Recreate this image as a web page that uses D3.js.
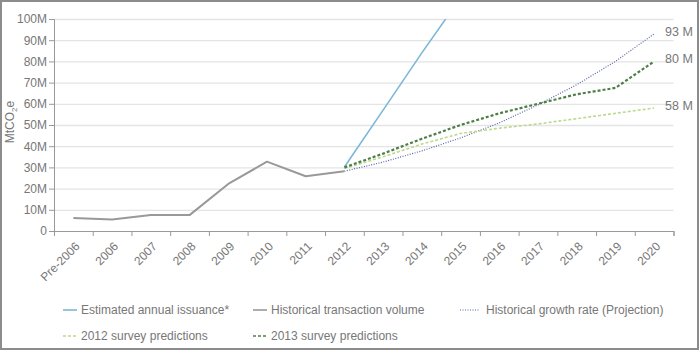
<!DOCTYPE html>
<html lang="en">
<head>
    <meta charset="UTF-8">
    <title>Carbon market volume</title>
    <script src="https://d3js.org/d3.v7.min.js"></script>
    <style>
        body {
            margin: 0;
            padding: 0;
            background: #fff;
            font-family: "Liberation Sans", Arial, sans-serif;
        }
        svg text {
            fill: #777;
        }
    </style>
</head>
<body>
    <svg id="chart" width="700" height="351"></svg>

    <script>
        // values in MtCO2e (millions)
        const categories = ["Pre-2006", "2006", "2007", "2008", "2009", "2010", "2011", "2012",
            "2013", "2014", "2015", "2016", "2017", "2018", "2019", "2020"];
        const yTicks = [0, 10, 20, 30, 40, 50, 60, 70, 80, 90, 100];

        const historicalYears = ["Pre-2006", "2006", "2007", "2008", "2009", "2010", "2011", "2012"];
        const historicalValues = [6.1, 5.4, 7.5, 7.5, 22.2, 32.7, 25.8, 28.2];

        const issuanceYears = ["2012", "2013", "2014", "2015"];
        const issuanceValues = [30.2, 57, 84, 110];

        const projYears = ["2012", "2013", "2014", "2015", "2016", "2017", "2018", "2019", "2020"];
        const growthValues = [28.2, 32.5, 37.8, 43.9, 51, 59.5, 69, 80, 93];
        const survey2012Values = [29.5, 35, 41, 46, 48.5, 50.5, 53, 55.5, 58];
        const survey2013Values = [30, 36.5, 43.5, 50, 55.5, 60, 64.5, 67.5, 80];

        const endLabels = [93, 80, 58];

        const svg = d3.select("#chart");
        const plotLeft = 54, plotRight = 673.5, plotTop = 19, plotBottom = 231;

        // frame
        svg.append("rect")
            .attr("x", 1).attr("y", 1)
            .attr("width", 697).attr("height", 348)
            .attr("fill", "none")
            .attr("stroke", "#8c8c8c")
            .attr("stroke-width", 2);

        const x = d3.scaleBand().domain(categories).range([plotLeft, plotRight]);
        const xc = c => x(c) + x.bandwidth() / 2;
        const xIdx = d3.scaleLinear().domain([0, categories.length]).range([plotLeft, plotRight]);
        const y = d3.scaleLinear().domain([0, 100]).range([plotBottom, plotTop]);

        // gridlines
        svg.append("g")
            .attr("transform", `translate(${plotLeft},0)`)
            .call(d3.axisLeft(y).tickValues(yTicks.slice(1)).tickSize(-(plotRight - plotLeft)).tickFormat(""))
            .call(g => g.select(".domain").remove())
            .call(g => g.selectAll("line").attr("stroke", "#e4e4e4").attr("stroke-width", 1.3));

        // y axis
        svg.append("g")
            .attr("transform", `translate(${plotLeft},0)`)
            .call(d3.axisLeft(y).tickValues(yTicks).tickSize(5).tickPadding(2)
                .tickFormat(d => d === 0 ? "0" : d + "M"))
            .call(g => g.select(".domain").attr("stroke", "#999"))
            .call(g => g.selectAll("line").attr("stroke", "#999"))
            .call(g => g.selectAll("text")
                .attr("font-size", 12)
                .attr("font-family", "Liberation Sans, Arial, sans-serif")
                .style("fill", "#777"));

        // x axis (ticks at category boundaries)
        svg.append("g")
            .attr("transform", `translate(0,${plotBottom})`)
            .call(d3.axisBottom(xIdx).tickValues(d3.range(categories.length + 1)).tickSize(5).tickFormat(""))
            .call(g => g.select(".domain").attr("stroke", "#999"))
            .call(g => g.selectAll("line").attr("stroke", "#999"));

        svg.append("g").selectAll("text")
            .data(categories)
            .join("text")
            .attr("text-anchor", "end")
            .attr("font-size", 12)
            .attr("transform", d => `translate(${xc(d) + 7},${plotBottom + 16}) rotate(-45)`)
            .text(d => d);

        // y axis title
        const title = svg.append("text")
            .attr("transform", `translate(14,122) rotate(-90)`)
            .attr("text-anchor", "middle")
            .attr("font-size", 12);
        title.append("tspan").text("MtCO");
        title.append("tspan").attr("font-size", 8).attr("dy", 3).text("2");
        title.append("tspan").attr("dy", -3).text("e");

        // clip for plot area
        svg.append("clipPath").attr("id", "plot-clip")
            .append("rect")
            .attr("x", plotLeft).attr("y", plotTop)
            .attr("width", plotRight - plotLeft).attr("height", plotBottom - plotTop);

        const line = d3.line().x(d => xc(d[0])).y(d => y(d[1]));
        const plot = svg.append("g").attr("clip-path", "url(#plot-clip)");

        const series = [
            { name: "Estimated annual issuance*", years: issuanceYears, values: issuanceValues,
              color: "#7db7d8", width: 1.6, dash: null },
            { name: "Historical transaction volume", years: historicalYears, values: historicalValues,
              color: "#999", width: 2, dash: null },
            { name: "Historical growth rate (Projection)", years: projYears, values: growthValues,
              color: "#5864a6", width: 1.2, dash: "1,1.5" },
            { name: "2012 survey predictions", years: projYears, values: survey2012Values,
              color: "#bcd98e", width: 1.6, dash: "3,2" },
            { name: "2013 survey predictions", years: projYears, values: survey2013Values,
              color: "#4d7f46", width: 2.2, dash: "3,2" }
        ];

        plot.selectAll("path")
            .data([series[1], series[0], series[2], series[3], series[4]])
            .join("path")
            .attr("fill", "none")
            .attr("stroke", d => d.color)
            .attr("stroke-width", d => d.width)
            .attr("stroke-dasharray", d => d.dash)
            .attr("stroke-linejoin", "round")
            .attr("d", d => line(d.years.map((yr, i) => [yr, d.values[i]])));

        // end-of-line labels
        svg.append("g").selectAll("text")
            .data(endLabels)
            .join("text")
            .attr("x", 665)
            .attr("y", d => y(d) + 2)
            .attr("font-size", 12.5)
            .text(d => d + " M");

        // legend
        const legendPos = [[63, 310], [253, 310], [460, 310], [63, 336], [253, 336]];
        const legend = svg.append("g").selectAll("g")
            .data(series)
            .join("g")
            .attr("transform", (d, i) => `translate(${legendPos[i][0]},${legendPos[i][1]})`);
        legend.append("line")
            .attr("x1", 0).attr("x2", (d, i) => i === 2 ? 20 : 14)
            .attr("stroke", d => d.color)
            .attr("stroke-width", d => Math.min(d.width, 1.6))
            .attr("stroke-dasharray", d => d.dash);
        legend.append("text")
            .attr("x", (d, i) => i === 2 ? 26 : 18)
            .attr("dy", "0.35em")
            .attr("font-size", 12)
            .text(d => d.name);
    </script>
</body>
</html>
